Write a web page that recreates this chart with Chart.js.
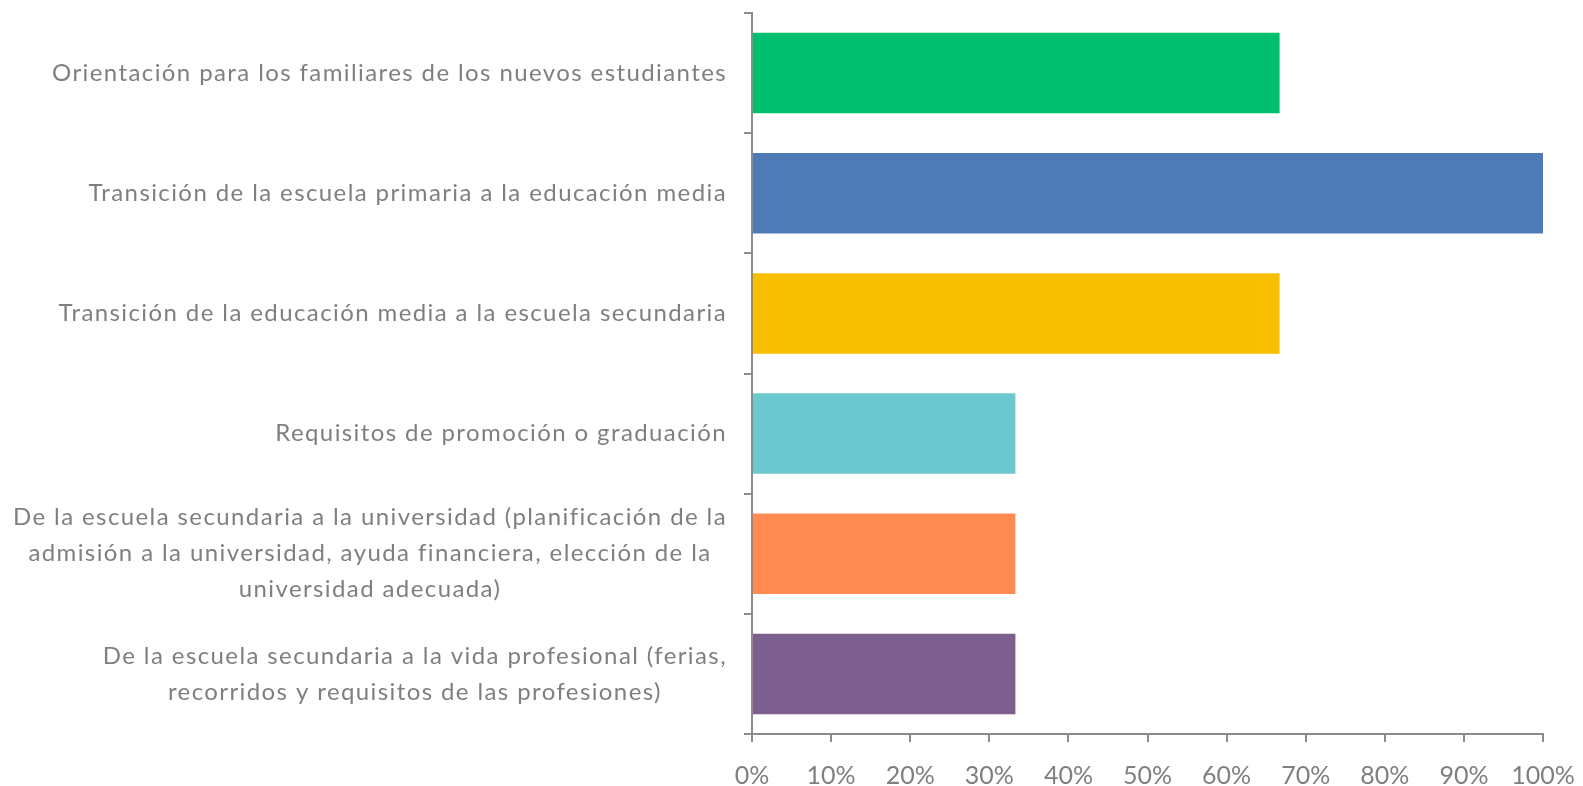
<!DOCTYPE html>
<html>
<head>
<meta charset="utf-8">
<script src="https://cdn.jsdelivr.net/npm/chart.js@4/dist/chart.umd.min.js"></script>
<style>
  html, body { margin: 0; padding: 0; background: #ffffff; }
  #wrap { position: relative; width: 1583px; height: 786px; }
</style>
</head>
<body>
<div id="wrap"><canvas id="c" width="1583" height="786"></canvas></div>
<script>
const categories = [
  ["Orientación para los familiares de los nuevos estudiantes"],
  ["Transición de la escuela primaria a la educación media"],
  ["Transición de la educación media a la escuela secundaria"],
  ["Requisitos de promoción o graduación"],
  ["De la escuela secundaria a la universidad (planificación de la",
   "admisión a la universidad, ayuda financiera, elección de la",
   "universidad adecuada)"],
  ["De la escuela secundaria a la vida profesional (ferias,",
   "recorridos y requisitos de las profesiones)"]
];
const values = [66.7, 100, 66.7, 33.3, 33.3, 33.3];
const barColors = ["#00BF6F", "#4E7AB5", "#F8BE00", "#6CC8CF", "#FF8A52", "#7C5F8E"];
const xTicks = [0, 10, 20, 30, 40, 50, 60, 70, 80, 90, 100];

const TEXT = "#7f7f7f";
const AXIS = "#8c8c8c";
const FONT_FAMILY = "Lato, 'Open Sans', sans-serif";
const LABEL_SIZE = 24;
const LINE_H = 36;
const LABEL_RIGHT = 727;

const labelPlugin = {
  id: 'catLabels',
  afterDraw(chart) {
    const ctx = chart.ctx;
    const y = chart.scales.y;
    ctx.save();
    ctx.font = LABEL_SIZE + "px " + FONT_FAMILY;
    if ('letterSpacing' in ctx) ctx.letterSpacing = '1.4px';
    ctx.fillStyle = TEXT;
    ctx.textAlign = "center";
    ctx.textBaseline = "middle";
    categories.forEach((lines, i) => {
      const cy = y.getPixelForValue(i);
      const maxW = Math.max(...lines.map(l => ctx.measureText(l).width));
      const cx = LABEL_RIGHT - maxW / 2;
      const top = cy - (lines.length - 1) * LINE_H / 2;
      lines.forEach((l, k) => ctx.fillText(l, cx, top + k * LINE_H));
    });
    ctx.restore();
  }
};

new Chart(document.getElementById('c'), {
  type: 'bar',
  data: {
    labels: categories.map(c => c.join(" ")),
    datasets: [{
      data: values,
      backgroundColor: barColors,
      borderWidth: 0,
      barPercentage: 0.67,
      categoryPercentage: 1.0
    }]
  },
  options: {
    indexAxis: 'y',
    responsive: false,
    devicePixelRatio: 1,
    animation: false,
    layout: { padding: { top: 13, right: 40, left: 0, bottom: 0 } },
    plugins: { legend: { display: false }, tooltip: { enabled: false } },
    scales: {
      x: {
        min: 0, max: 100,
        afterBuildTicks: s => { s.ticks = xTicks.map(v => ({ value: v })); },
        afterFit: s => { s.height = 52; s.paddingRight = 0; s.paddingLeft = 0; },
        border: { display: true, color: AXIS, width: 2 },
        grid: { drawOnChartArea: false, drawTicks: true, tickLength: 8, color: AXIS, lineWidth: 2 },
        ticks: {
          color: TEXT,
          font: { family: FONT_FAMILY, size: 25 },
          padding: 19,
          maxRotation: 0,
          autoSkip: false,
          callback: v => v + "%"
        }
      },
      y: {
        afterFit: s => { s.width = 752; },
        border: { display: true, color: AXIS, width: 2 },
        grid: { offset: true, drawOnChartArea: false, drawTicks: true, tickLength: 8, color: AXIS, lineWidth: 2 },
        ticks: { display: false }
      }
    }
  },
  plugins: [labelPlugin]
});
</script>
</body>
</html>
